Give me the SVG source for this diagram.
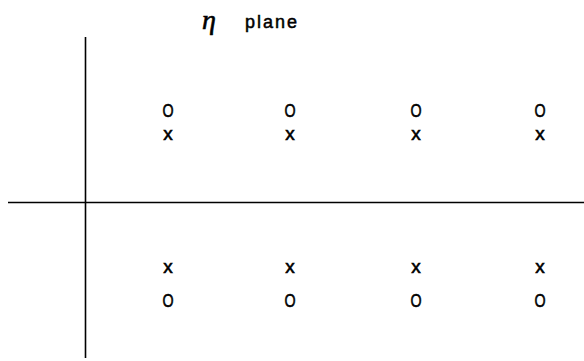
<svg xmlns="http://www.w3.org/2000/svg" width="584" height="361" viewBox="0 0 584 361">
<style>
.ax{stroke:#000;stroke-width:1.6;fill:none}
.m{font-family:"Liberation Sans",Arial,sans-serif;font-size:19px;fill:#000;stroke:#000;stroke-width:0.6;text-anchor:middle}
.t{font-family:"Liberation Sans",Arial,sans-serif;font-size:18px;letter-spacing:2px;fill:#000;stroke:#000;stroke-width:0.5}
.eta{font-family:"Liberation Serif","Times New Roman",serif;font-style:italic;font-size:28px;fill:#000;stroke:#000;stroke-width:0.6}
</style>
<rect width="584" height="361" fill="#fff"/>
<g id="axes">
<line class="ax" x1="8" y1="202.5" x2="584" y2="202.5"/>
<line class="ax" x1="85.5" y1="37" x2="85.5" y2="358"/>
</g>
<g id="title">
<text class="eta" x="202" y="29">η</text>
<text class="t" x="245" y="28">plane</text>
</g>
<g id="upper-zeros">
<text class="m" transform="translate(168,117) scale(0.75,1)">O</text>
<text class="m" transform="translate(290,117) scale(0.75,1)">O</text>
<text class="m" transform="translate(416,117) scale(0.75,1)">O</text>
<text class="m" transform="translate(540,117) scale(0.75,1)">O</text>
</g>
<g id="upper-poles">
<text class="m" x="168" y="140">x</text>
<text class="m" x="290" y="140">x</text>
<text class="m" x="416" y="140">x</text>
<text class="m" x="540" y="140">x</text>
</g>
<g id="lower-poles">
<text class="m" x="168" y="273">x</text>
<text class="m" x="290" y="273">x</text>
<text class="m" x="416" y="273">x</text>
<text class="m" x="540" y="273">x</text>
</g>
<g id="lower-zeros">
<text class="m" transform="translate(168,307) scale(0.75,1)">O</text>
<text class="m" transform="translate(290,307) scale(0.75,1)">O</text>
<text class="m" transform="translate(416,307) scale(0.75,1)">O</text>
<text class="m" transform="translate(540,307) scale(0.75,1)">O</text>
</g>
</svg>
